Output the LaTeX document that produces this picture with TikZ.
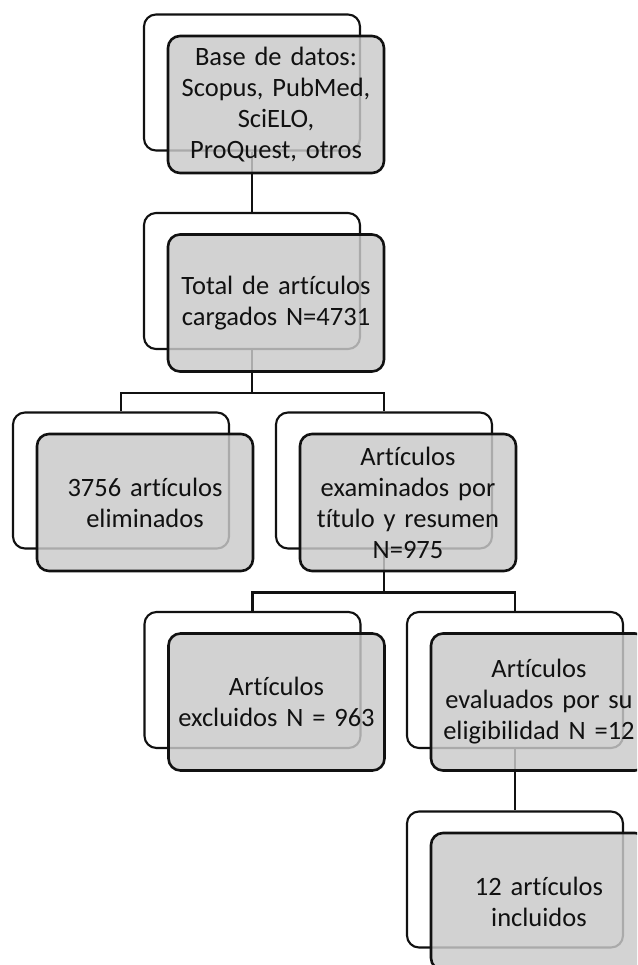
\documentclass[tikz,border=0pt]{standalone}
\usepackage{fontspec}
\setmainfont{Carlito}[Ligatures={NoCommon}, WordSpace=0.9]
\definecolor{Ink}{HTML}{111111}
\definecolor{Shade}{HTML}{CACACA}
\tikzset{
    backbox/.style={rectangle, rounded corners=12pt, draw=Ink, line width=2.1pt, fill=white, minimum width=216pt, minimum height=136pt, inner sep=0pt},
    frontbox/.style={rectangle, rounded corners=12pt, draw=Ink, line width=2.6pt, fill=Shade, fill opacity=0.83, text opacity=1, minimum width=216pt, minimum height=137pt, inner sep=0pt, text width=212pt, align=center, font=\fontsize{26.5}{31}\selectfont, text=Ink},
    link/.style={line width=2.2pt, color=Ink},
}

\begin{document}
\begin{tikzpicture}[x=1pt, y=-1pt]
    \clip (0,0) rectangle (637,965);

    % Cajas de fondo (blancas)
    \node[backbox] (base-b)  at (252,82.5) {};
    \node[backbox] (total-b) at (252,281) {};
    \node[backbox] (elim-b)  at (121,480.5) {};
    \node[backbox] (exam-b)  at (384,480.5) {};
    \node[backbox] (excl-b)  at (252.5,680) {};
    \node[backbox] (eval-b)  at (515,680) {};
    \node[backbox] (incl-b)  at (515,879.5) {};

    % Conectores
    \draw[link] (base-b.south) -- (total-b.north);
    \draw[link] (total-b.south) -- ++(0,43) -| (elim-b.north);
    \draw[link] (total-b.south) -- ++(0,43) -| (exam-b.north);
    \draw[link] (exam-b.south) -- ++(0,43) -| (excl-b.north);
    \draw[link] (exam-b.south) -- ++(0,43) -| (eval-b.north);
    \draw[link] (eval-b.south) -- (incl-b.north);

    % Cajas grises con texto
    \node[frontbox] (base)  at ([shift={(24,22)}]base-b.center) {Base de datos:\\Scopus, PubMed,\\SciELO,\\ProQuest, otros};
    \node[frontbox] (total) at ([shift={(24,22)}]total-b.center) {Total de artículos\\cargados N=4731};
    \node[frontbox] (elim)  at ([shift={(24,22)}]elim-b.center) {3756 artículos\\eliminados};
    \node[frontbox] (exam)  at ([shift={(24,22)}]exam-b.center) {Artículos\\examinados por\\título y resumen\\N=975};
    \node[frontbox] (excl)  at ([shift={(24,22)}]excl-b.center) {Artículos\\excluidos N = 963};
    \node[frontbox] (eval)  at ([shift={(24,22)}]eval-b.center) {Artículos\\evaluados por su\\eligibilidad N =12};
    \node[frontbox] (incl)  at ([shift={(24,22)}]incl-b.center) {12 artículos\\incluidos};
\end{tikzpicture}
\end{document}
